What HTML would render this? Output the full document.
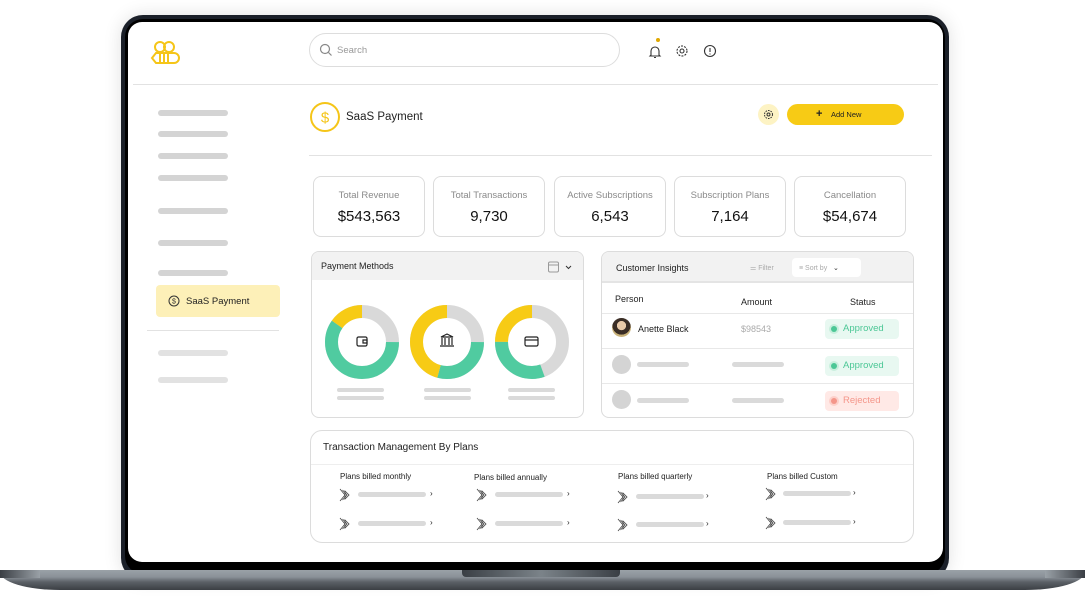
<!DOCTYPE html>
<html><head><meta charset="utf-8"><style>
*{margin:0;padding:0;box-sizing:border-box}
body{width:1085px;height:600px;background:#fff;position:relative;overflow:hidden;font-family:"Liberation Sans",sans-serif;color:#222}
.a{position:absolute}
.bar{position:absolute;height:6px;border-radius:3px;background:#d4d4d4}
.card{position:absolute;border:1px solid #dcdcdc;border-radius:8px;background:#fff}
.lbl{position:absolute;font-size:9.5px;color:#8a8a8a;width:100%;text-align:center;top:13px}
.val{position:absolute;font-size:15px;color:#111;width:100%;text-align:center;top:31px}
.pill{position:absolute;height:20px;width:74px;border-radius:4px;font-size:9.5px;line-height:20px;padding-left:18px}
.pill i{position:absolute;left:6px;top:7px;width:6px;height:6px;border-radius:50%}
.t{font-size:8px;color:#222;position:absolute}
.ic{position:absolute;width:14px;height:14px}
</style></head><body>
<svg width="0" height="0" style="position:absolute"><defs><g id="arw" fill="none" stroke="#444" stroke-width="0.8"><path d="M1 1l5 6-5 6"/><path d="M3.5 2l4.5 5-4.5 5"/><path d="M6 3l4 4-4 4z"/></g></defs></svg>
<!-- laptop -->
<div class="a" style="left:121px;top:15px;width:828px;height:565px;background:#1b2029;border-radius:22px;box-shadow:0 0 18px rgba(0,0,0,.12)"></div>
<div class="a" style="left:125px;top:19px;width:820px;height:555px;background:#000;border-radius:18px"></div>
<div class="a" style="left:128px;top:22px;width:815px;height:540px;background:#fff;border-radius:14px"></div>
<div class="a" style="left:0;top:570px;width:1085px;height:20px;background:linear-gradient(#9aa1a7 0,#8a9198 35%,#5b6066 60%,#3b3f44 100%);border-radius:2px 2px 60px 60px/2px 2px 18px 18px"></div>
<div class="a" style="left:0;top:570px;width:40px;height:8px;background:linear-gradient(90deg,#3a3e44,#9aa1a7)"></div>
<div class="a" style="left:1045px;top:570px;width:40px;height:8px;background:linear-gradient(90deg,#9aa1a7,#3a3e44)"></div>
<div class="a" style="left:462px;top:570px;width:158px;height:7px;background:linear-gradient(90deg,#3a3f45,#7b8389 50%,#3a3f45);border-radius:0 0 4px 4px"></div>

<!-- logo -->
<svg class="a" style="left:150px;top:40px" width="30" height="26" viewBox="0 0 30 26" fill="none" stroke="#f5c518" stroke-width="2"><circle cx="10" cy="7" r="5"/><circle cx="19" cy="7" r="5"/><path d="M6 13h18a4 4 0 0 1 0 10H6l-4-5z"/><path d="M10 13v10M14 13v10M18 13v10"/></svg>
<!-- search -->
<div class="a" style="left:309px;top:33px;width:311px;height:34px;border:1px solid #ddd;border-radius:17px"></div>
<svg class="a" style="left:319px;top:43px" width="14" height="14"><circle cx="6" cy="6" r="4.5" fill="none" stroke="#888" stroke-width="1.2"/><path d="M9.5 9.5l3 3" stroke="#888" stroke-width="1.2"/></svg>
<div class="a" style="left:337px;top:45px;font-size:9.5px;color:#999">Search</div>
<!-- top icons -->
<div class="a" style="left:656px;top:38px;width:4px;height:4px;border-radius:50%;background:#e0a800"></div>
<svg class="a" style="left:648px;top:45px" width="14" height="14" fill="none" stroke="#333" stroke-width="1.1"><path d="M3 10V6a4 4 0 0 1 8 0v4l1 1H2z M6 12.5h2"/></svg>
<svg class="a" style="left:675px;top:44px" width="14" height="14" fill="none" stroke="#333" stroke-width="1.1"><circle cx="7" cy="7" r="2"/><circle cx="7" cy="7" r="5" stroke-dasharray="2 1.2"/></svg>
<svg class="a" style="left:703px;top:44px" width="14" height="14" fill="none" stroke="#333" stroke-width="1.1"><circle cx="7" cy="7" r="5.5"/><path d="M7 4v4M7 9.5v1"/></svg>
<div class="a" style="left:133px;top:84px;width:805px;height:1px;background:#e2e2e2"></div>

<!-- sidebar -->
<div class="bar" style="left:158px;top:110px;width:70px"></div>
<div class="bar" style="left:158px;top:131px;width:70px"></div>
<div class="bar" style="left:158px;top:153px;width:70px"></div>
<div class="bar" style="left:158px;top:175px;width:70px"></div>
<div class="bar" style="left:158px;top:208px;width:70px"></div>
<div class="bar" style="left:158px;top:240px;width:70px"></div>
<div class="bar" style="left:158px;top:270px;width:70px"></div>
<div class="a" style="left:156px;top:285px;width:124px;height:32px;background:#fdf0b8;border-radius:4px"></div>
<svg class="a" style="left:168px;top:295px" width="12" height="12"><circle cx="6" cy="6" r="5" fill="none" stroke="#333" stroke-width="1"/><text x="6" y="8.5" font-size="7" text-anchor="middle" fill="#333" font-family="Liberation Sans">$</text></svg>
<div class="a" style="left:186px;top:296px;font-size:9.5px;color:#222">SaaS Payment</div>
<div class="a" style="left:147px;top:330px;width:132px;height:1px;background:#e2e2e2"></div>
<div class="bar" style="left:158px;top:350px;width:70px;background:#e2e2e2"></div>
<div class="bar" style="left:158px;top:377px;width:70px;background:#e2e2e2"></div>

<!-- title -->
<svg class="a" style="left:310px;top:102px" width="30" height="30"><circle cx="15" cy="15" r="14" fill="none" stroke="#f5c518" stroke-width="2"/><text x="15" y="20.5" font-size="15" text-anchor="middle" fill="#f5c518" font-family="Liberation Sans">$</text></svg>
<div class="a" style="left:346px;top:111px;font-size:11.5px;color:#222">SaaS Payment</div>
<div class="a" style="left:758px;top:104px;width:21px;height:21px;border-radius:50%;background:#fdf3c4"></div>
<svg class="a" style="left:763px;top:109px" width="11" height="11" fill="none" stroke="#333" stroke-width="1"><circle cx="5.5" cy="5.5" r="1.5"/><circle cx="5.5" cy="5.5" r="4" stroke-dasharray="1.6 1"/></svg>
<div class="a" style="left:787px;top:104px;width:117px;height:21px;border-radius:11px;background:#f7cb15"></div>
<div class="a" style="left:816px;top:108px;font-size:11px;font-weight:bold;color:#222">+</div>
<div class="a" style="left:831px;top:110px;font-size:7.5px;color:#222">Add New</div>
<div class="a" style="left:309px;top:155px;width:623px;height:1px;background:#e2e2e2"></div>

<!-- stats -->
<div class="card" style="left:313px;top:176px;width:112px;height:61px"><div class="lbl">Total Revenue</div><div class="val">$543,563</div></div>
<div class="card" style="left:433px;top:176px;width:112px;height:61px"><div class="lbl">Total Transactions</div><div class="val">9,730</div></div>
<div class="card" style="left:554px;top:176px;width:112px;height:61px"><div class="lbl">Active Subscriptions</div><div class="val">6,543</div></div>
<div class="card" style="left:674px;top:176px;width:112px;height:61px"><div class="lbl">Subscription Plans</div><div class="val">7,164</div></div>
<div class="card" style="left:794px;top:176px;width:112px;height:61px"><div class="lbl">Cancellation</div><div class="val">$54,674</div></div>

<!-- payment methods -->
<div class="card" style="left:311px;top:251px;width:273px;height:167px;overflow:hidden">
<div class="a" style="left:0;top:0;width:100%;height:28px;background:#f2f2f2"></div>
<div class="a" style="left:9px;top:9px;font-size:9px;color:#222">Payment Methods</div>
<svg class="a" style="left:235px;top:8px" width="30" height="14" fill="none" stroke="#999" stroke-width="1"><rect x="1.5" y="2" width="10" height="10" rx="1.5"/><path d="M1.5 5h10"/><path d="M19 6l2.5 2.5L24 6" stroke="#333"/></svg>
</div>
<svg class="a" style="left:320px;top:300px" width="260" height="85">
<g transform="rotate(-90 42 42)" fill="none" stroke-width="13">
<circle cx="42" cy="42" r="30.5" stroke="#d9d9d9"/>
<circle cx="42" cy="42" r="30.5" stroke="#50cba0" stroke-dasharray="0 47.9 114.4 200" />
<circle cx="42" cy="42" r="30.5" stroke="#f7cb15" stroke-dasharray="0 162.3 29.3 0"/>
</g>
<g transform="translate(85 0) rotate(-90 42 42)" fill="none" stroke-width="13">
<circle cx="42" cy="42" r="30.5" stroke="#d9d9d9"/>
<circle cx="42" cy="42" r="30.5" stroke="#50cba0" stroke-dasharray="0 47.9 55.9 200"/>
<circle cx="42" cy="42" r="30.5" stroke="#f7cb15" stroke-dasharray="0 103.8 87.8 0"/>
</g>
<g transform="translate(170 0) rotate(-90 42 42)" fill="none" stroke-width="13">
<circle cx="42" cy="42" r="30.5" stroke="#d9d9d9"/>
<circle cx="42" cy="42" r="30.5" stroke="#50cba0" stroke-dasharray="0 85 58.7 200"/>
<circle cx="42" cy="42" r="30.5" stroke="#f7cb15" stroke-dasharray="0 143.7 47.9 0"/>
</g>
<g fill="none" stroke="#222" stroke-width="1.2">
<rect x="37" y="37" width="10" height="9" rx="1.5"/><path d="M43 40h4v3h-4z"/>
<path d="M121 37l6-3 6 3z M122 38v7M125 38v7M129 38v7M132 38v7M120 46h14"/>
<rect x="205" y="37" width="13" height="9" rx="1.5"/><path d="M205 40h13"/>
</g>
</svg>
<div class="bar" style="left:337px;top:388px;width:47px;height:4px;background:#dadada"></div>
<div class="bar" style="left:337px;top:396px;width:47px;height:4px;background:#dadada"></div>
<div class="bar" style="left:424px;top:388px;width:47px;height:4px;background:#dadada"></div>
<div class="bar" style="left:424px;top:396px;width:47px;height:4px;background:#dadada"></div>
<div class="bar" style="left:508px;top:388px;width:47px;height:4px;background:#dadada"></div>
<div class="bar" style="left:508px;top:396px;width:47px;height:4px;background:#dadada"></div>

<!-- customer insights -->
<div class="card" style="left:601px;top:251px;width:313px;height:167px;overflow:hidden">
<div class="a" style="left:0;top:0;width:100%;height:31px;background:#f2f2f2;border-bottom:2px solid #e4e4e4"></div>
<div class="a" style="left:14px;top:11px;font-size:9px;color:#222">Customer Insights</div>
<div class="a" style="left:148px;top:12px;font-size:7px;color:#aaa">⚌ Filter</div>
<div class="a" style="left:190px;top:6px;width:69px;height:19px;background:#fff;border-radius:4px"></div>
<div class="a" style="left:197px;top:12px;font-size:7px;color:#aaa">≡ Sort by &nbsp;&nbsp;<span style="color:#333">⌄</span></div>
<div class="a" style="left:13px;top:42px;font-size:9px">Person</div>
<div class="a" style="left:139px;top:45px;font-size:9px">Amount</div>
<div class="a" style="left:248px;top:45px;font-size:9px">Status</div>
<div class="a" style="left:0;top:61px;width:100%;height:1px;background:#e8e8e8"></div>
<div class="a" style="left:0;top:96px;width:100%;height:1px;background:#e8e8e8"></div>
<div class="a" style="left:0;top:131px;width:100%;height:1px;background:#e8e8e8"></div>
<div class="a" style="left:10px;top:66px;width:19px;height:19px;border-radius:50%;background:radial-gradient(circle at 50% 40%,#e8c9a8 0 30%,#3a2d25 32% 60%,#c9b27a 62%)"></div>
<div class="a" style="left:36px;top:72px;font-size:9px">Anette Black</div>
<div class="a" style="left:139px;top:72px;font-size:9px;color:#aaa">$98543</div>
<div class="a" style="left:10px;top:103px;width:19px;height:19px;border-radius:50%;background:#d4d4d4"></div>
<div class="a" style="left:10px;top:138px;width:19px;height:19px;border-radius:50%;background:#d4d4d4"></div>
<div class="bar" style="left:35px;top:110px;width:52px;height:5px;background:#dadada"></div>
<div class="bar" style="left:130px;top:110px;width:52px;height:5px;background:#dadada"></div>
<div class="bar" style="left:35px;top:146px;width:52px;height:5px;background:#dadada"></div>
<div class="bar" style="left:130px;top:146px;width:52px;height:5px;background:#dadada"></div>
<div class="pill" style="left:223px;top:67px;background:#e8f8f1;color:#4cc796"><i style="background:#4cc796;box-shadow:0 0 0 2px #c8efdd"></i>Approved</div>
<div class="pill" style="left:223px;top:104px;background:#e8f8f1;color:#4cc796"><i style="background:#4cc796;box-shadow:0 0 0 2px #c8efdd"></i>Approved</div>
<div class="pill" style="left:223px;top:139px;background:#ffe9e6;color:#f4968a"><i style="background:#f4968a;box-shadow:0 0 0 2px #fdd0ca"></i>Rejected</div>
</div>

<!-- transactions -->
<div class="card" style="left:310px;top:430px;width:604px;height:113px;border-radius:12px">
<div class="a" style="left:12px;top:11px;font-size:10px;color:#222">Transaction Management By Plans</div>
<div class="a" style="left:0;top:33px;width:100%;height:1px;background:#eee"></div>
</div>
<div class="t" style="left:340px;top:472px">Plans billed monthly</div>
<div class="t" style="left:474px;top:473px">Plans billed annually</div>
<div class="t" style="left:618px;top:472px">Plans billed quarterly</div>
<div class="t" style="left:767px;top:472px">Plans billed Custom</div>
<svg class="ic" style="left:339px;top:488px"><use href="#arw"/></svg>
<svg class="ic" style="left:339px;top:517px"><use href="#arw"/></svg>
<svg class="ic" style="left:476px;top:488px"><use href="#arw"/></svg>
<svg class="ic" style="left:476px;top:517px"><use href="#arw"/></svg>
<svg class="ic" style="left:617px;top:490px"><use href="#arw"/></svg>
<svg class="ic" style="left:617px;top:518px"><use href="#arw"/></svg>
<svg class="ic" style="left:765px;top:487px"><use href="#arw"/></svg>
<svg class="ic" style="left:765px;top:516px"><use href="#arw"/></svg>
<div class="bar" style="left:358px;top:492px;width:68px;height:5px;background:#dadada"></div>
<div class="bar" style="left:358px;top:521px;width:68px;height:5px;background:#dadada"></div>
<div class="bar" style="left:495px;top:492px;width:68px;height:5px;background:#dadada"></div>
<div class="bar" style="left:495px;top:521px;width:68px;height:5px;background:#dadada"></div>
<div class="bar" style="left:636px;top:494px;width:68px;height:5px;background:#dadada"></div>
<div class="bar" style="left:636px;top:522px;width:68px;height:5px;background:#dadada"></div>
<div class="bar" style="left:783px;top:491px;width:68px;height:5px;background:#dadada"></div>
<div class="bar" style="left:783px;top:520px;width:68px;height:5px;background:#dadada"></div>
<div class="t" style="left:430px;top:489px">›</div><div class="t" style="left:430px;top:518px">›</div>
<div class="t" style="left:567px;top:489px">›</div><div class="t" style="left:567px;top:518px">›</div>
<div class="t" style="left:706px;top:491px">›</div><div class="t" style="left:706px;top:519px">›</div>
<div class="t" style="left:853px;top:488px">›</div><div class="t" style="left:853px;top:517px">›</div>
</body></html>
